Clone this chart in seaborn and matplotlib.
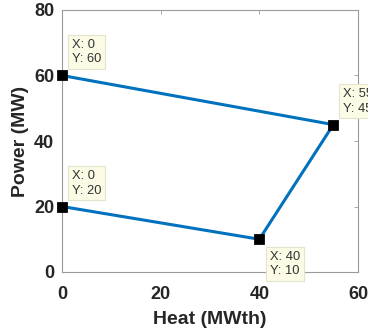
import matplotlib
matplotlib.use("Agg")
import matplotlib.pyplot as plt
import seaborn as sns
import pandas as pd

# Operating region of the CHP unit (corner points, traversed in order)
heat = [0, 40, 55, 0]
power = [20, 10, 45, 60]
# Data tips shown on each corner: (dx_px, dy_px, ha, va)
tip_offsets = [(10, 10, "left", "bottom"),
               (11, -12, "left", "top"),
               (10, 10, "left", "bottom"),
               (10, 10, "left", "bottom")]
xticks = [0, 20, 40, 60]
yticks = [0, 20, 40, 60, 80]

sns.set_style("white")
plt.rcParams["font.family"] = ["Liberation Sans", "DejaVu Sans"]

df = pd.DataFrame({"Heat": heat, "Power": power})

fig = plt.figure(figsize=(3.68, 3.33), dpi=100)
ax = fig.add_axes([62 / 368, 61 / 333, 296 / 368, 262 / 333])

sns.lineplot(data=df, x="Heat", y="Power", sort=False, estimator=None,
             color="#0072BD", linewidth=2.2, ax=ax, zorder=2)
sns.scatterplot(data=df, x="Heat", y="Power", marker="s", color="black",
                s=50, edgecolor="black", ax=ax, zorder=3, clip_on=False)

for (x, y), (dx, dy, ha, va) in zip(zip(heat, power), tip_offsets):
    ax.annotate(f"X: {x}\nY: {y}", xy=(x, y), xytext=(dx * 0.72, dy * 0.72),
                textcoords="offset points", ha=ha, va=va, fontsize=9.3,
                color="#333333", linespacing=1.25, annotation_clip=False,
                bbox=dict(boxstyle="square,pad=0.3", fc="#fbfbe6",
                          ec="#e4e4cc", lw=0.8), zorder=4)

ax.set_xlim(0, 60)
ax.set_ylim(0, 80)
ax.set_xticks(xticks)
ax.set_yticks(yticks)
ax.tick_params(direction="in", length=3, width=0.6, colors="#999999",
               labelcolor="#262626", labelsize=13, top=True, right=True)
ax.tick_params(axis="x", pad=10)
ax.tick_params(axis="y", pad=5.5)
for lab in ax.get_xticklabels() + ax.get_yticklabels():
    lab.set_fontweight("bold")
for s in ax.spines.values():
    s.set_visible(True)
    s.set_color("#9a9a9a")
    s.set_linewidth(0.8)

ax.set_xlabel("Heat (MWth)", fontsize=14, fontweight="bold", color="#262626",
              labelpad=6)
ax.set_ylabel("Power (MW)", fontsize=14, fontweight="bold", color="#262626",
              labelpad=3.5)

fig.savefig("out.png", dpi=100)
